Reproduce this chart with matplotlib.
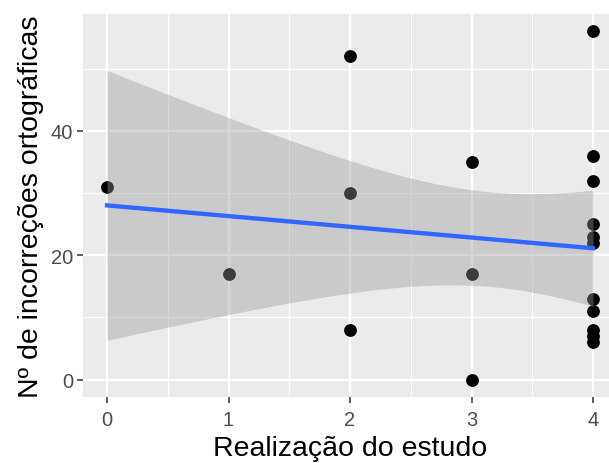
import numpy as np
import matplotlib.pyplot as plt

# data
estudo = [0, 1, 2, 2, 2, 3, 3, 3, 4, 4, 4, 4, 4, 4, 4, 4, 4, 4, 4]
incorrecoes = [31, 17, 52, 30, 8, 35, 17, 0, 56, 36, 32, 25, 23, 22, 13, 11, 8, 7, 6]
x_ticks = [0, 1, 2, 3, 4]
y_ticks = [0, 20, 40]

plt.rcParams['font.family'] = ['Liberation Sans', 'DejaVu Sans']

x = np.array(estudo, dtype=float)
y = np.array(incorrecoes, dtype=float)
n = len(x)

# linear fit + 95% confidence band (like geom_smooth(method="lm"))
slope, intercept = np.polyfit(x, y, 1)
xs = np.linspace(x.min(), x.max(), 80)
ys = intercept + slope * xs
resid = y - (intercept + slope * x)
s = np.sqrt(np.sum(resid ** 2) / (n - 2))
sxx = np.sum((x - x.mean()) ** 2)
t_crit = 2.1098  # t(0.975, df=17)
se = s * np.sqrt(1.0 / n + (xs - x.mean()) ** 2 / sxx)

fig = plt.figure(figsize=(6.09, 4.64), dpi=100)
ax = fig.add_axes([0.1358, 0.1422, 0.878, 0.8254])
ax.set_facecolor('#EBEBEB')
for sp in ax.spines.values():
    sp.set_visible(False)

ax.set_xlim(-0.2, 4.2)
ax.set_ylim(-2.8, 58.8)
ax.set_xticks(x_ticks)
ax.set_yticks(y_ticks)
ax.set_xticks([0.5, 1.5, 2.5, 3.5], minor=True)
ax.set_yticks([10, 30, 50], minor=True)
ax.grid(which='major', color='white', linewidth=1.6)
ax.grid(which='minor', color='white', linewidth=0.8)
ax.set_axisbelow(True)
ax.tick_params(which='major', length=4, width=1.1, color='#333333',
               labelsize=14.5, labelcolor='#4D4D4D', pad=3)
ax.tick_params(axis='x', which='major', pad=5)
ax.tick_params(which='minor', length=0)

ax.scatter(x, y, s=85, color='black', zorder=2, linewidths=0)
ax.fill_between(xs, ys - t_crit * se, ys + t_crit * se, color='#999999', alpha=0.4,
                linewidth=0, zorder=3)
ax.plot(xs, ys, color='#3366FF', linewidth=3.1, zorder=4)

ax.set_xlabel('Realização do estudo', fontsize=20.5, labelpad=5)
ax.set_ylabel('Nº de incorreções ortográficas', fontsize=20.5, labelpad=5)

fig.savefig('out.png', dpi=100)
